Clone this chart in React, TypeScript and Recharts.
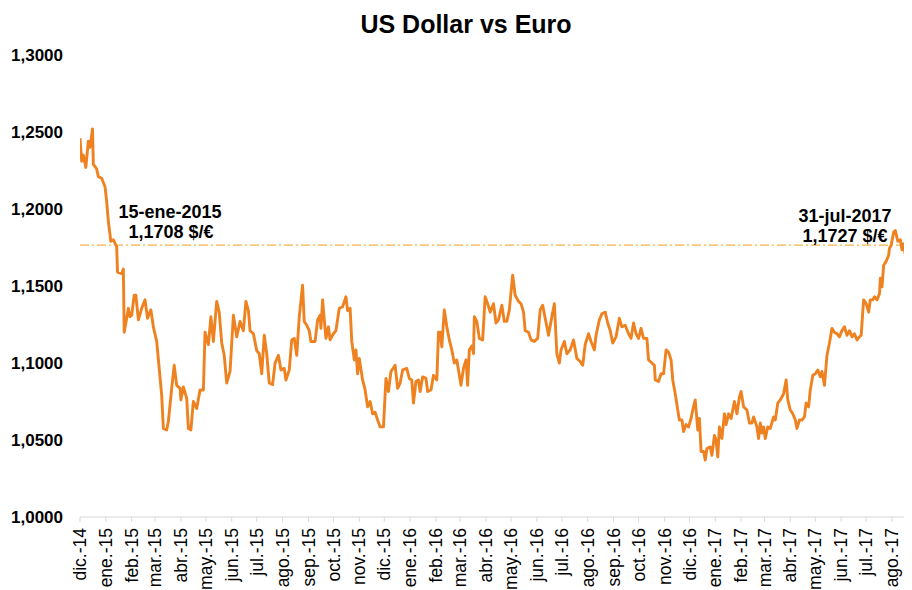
import { LineChart, Line, XAxis, YAxis, ReferenceLine } from 'recharts';

// x = days since 1-dic-2014, y = $/€
const days = [
  0, 2, 4, 7, 10, 12, 15, 16, 20, 22, 26, 30, 32, 34, 37, 40, 44, 45, 50, 52, 53, 56, 58, 60, 62, 65, 67, 70, 74, 78,
  81, 85, 88, 92, 95, 98, 100, 104, 106, 110, 113, 116, 120, 121, 124, 128, 130, 133, 136, 140, 144, 148, 150, 154,
  157, 160, 164, 167, 170, 173, 176, 180, 184, 188, 192,
  196, 199, 202, 204, 208, 212, 215, 218, 221, 224, 227, 231, 234, 238, 241, 245, 247, 251, 254, 257, 260, 263, 267,
  269, 272, 275, 277, 282, 285, 288, 289, 291, 295, 298, 300, 304, 307, 311, 315, 319, 321, 324, 326, 329, 331, 333,
  335, 339, 342, 345, 348, 351, 354, 357, 360, 364, 367, 370, 373, 378, 381, 384, 387, 392,
  395, 398, 400, 403, 406, 408, 411, 415, 417, 421, 424, 428, 430, 432, 434, 437, 440, 443, 446, 449, 452, 454, 457,
  460, 463, 465, 467, 470, 472, 473, 476, 479, 483, 486, 489, 492, 496, 499, 502, 506, 509, 512, 515, 519, 522, 526,
  529, 532, 534, 538, 541, 545, 549, 552, 555, 558, 562, 566, 569, 572, 575, 577, 581, 584, 588,
  592, 596, 600, 603, 606, 610, 613, 617, 619, 623, 626, 630, 633, 636, 639, 643, 647, 650, 654, 658, 661, 664, 667,
  670, 673, 676, 680, 682, 686, 689, 690, 694, 697, 700, 703, 706, 709, 711, 714, 717, 719, 722, 724, 727, 730, 733,
  735, 738, 741, 743, 745, 748, 750, 752, 756, 758, 761, 763, 765, 767, 770, 773, 775, 778, 781, 785, 788, 791,
  793, 796, 800, 803, 806, 808, 812, 814, 816, 818, 820, 822, 825, 828, 832, 834, 837, 840, 844, 847, 849, 852, 855,
  858, 860, 863, 866, 869, 871, 874, 876, 879, 882, 885, 888, 890, 893, 896, 899, 902, 905, 908, 911, 914, 917, 920,
  923, 926, 929, 932, 935, 937, 940, 943, 946, 948, 951, 953, 956, 959, 960, 962, 964, 967, 970, 971, 973, 976, 978,
  981, 984, 986, 988, 990, 992, 995, 997,
];

const rates = [
  1.246, 1.231, 1.235, 1.227, 1.244, 1.24, 1.252, 1.229, 1.226, 1.221, 1.22, 1.2145, 1.205, 1.192, 1.179, 1.18, 1.1755,
  1.159, 1.158, 1.161, 1.12, 1.129, 1.1355, 1.13, 1.131, 1.144, 1.144, 1.128, 1.1355, 1.141, 1.129, 1.1345, 1.1235,
  1.114, 1.0965, 1.079, 1.0575, 1.0565, 1.062, 1.0835, 1.0985, 1.0855, 1.0835, 1.076, 1.0845, 1.077, 1.0575, 1.0565,
  1.075, 1.0705, 1.0825, 1.0825, 1.12, 1.112, 1.13, 1.114, 1.14, 1.133, 1.113, 1.105, 1.087, 1.0945, 1.131, 1.117, 1.127,
  1.121, 1.14, 1.134, 1.121, 1.119, 1.108, 1.106, 1.093, 1.118, 1.106, 1.087, 1.086, 1.1, 1.105, 1.0955, 1.0965, 1.089,
  1.0955, 1.115, 1.116, 1.105, 1.13, 1.1505, 1.127, 1.1245, 1.121, 1.114, 1.114, 1.128, 1.131, 1.1225, 1.141, 1.116,
  1.1235, 1.115, 1.119, 1.121, 1.1355, 1.1365, 1.143, 1.134, 1.1355, 1.114, 1.102, 1.1085, 1.093, 1.103, 1.089, 1.0825,
  1.0715, 1.075, 1.067, 1.068, 1.063, 1.0585, 1.0585, 1.09, 1.0815, 1.0945, 1.0985, 1.0835, 1.087, 1.0955, 1.0965,
  1.09, 1.089, 1.074, 1.088, 1.089, 1.0815, 1.091, 1.09, 1.0815, 1.0825, 1.092, 1.089, 1.12, 1.12, 1.1105, 1.1345,
  1.1235, 1.115, 1.1085, 1.1, 1.102, 1.0955, 1.0855, 1.0965, 1.102, 1.0855, 1.1085, 1.111, 1.106, 1.13, 1.127, 1.116,
  1.115, 1.143, 1.1385, 1.133, 1.1385, 1.126, 1.128, 1.1375, 1.127, 1.127, 1.1345, 1.157, 1.144, 1.14, 1.1385, 1.133,
  1.121, 1.12, 1.115, 1.114, 1.116, 1.1345, 1.1375, 1.129, 1.118, 1.13, 1.1385, 1.106, 1.1, 1.1085, 1.114, 1.106, 1.1085,
  1.115, 1.103, 1.101, 1.0985, 1.112, 1.119, 1.114, 1.1085, 1.118, 1.128, 1.132, 1.133, 1.126, 1.121, 1.113, 1.117,
  1.129, 1.1235, 1.1245, 1.119, 1.116, 1.126, 1.119, 1.116, 1.1225, 1.116, 1.116, 1.102, 1.1, 1.0985, 1.089, 1.088,
  1.093, 1.093, 1.1085, 1.107, 1.102, 1.089, 1.08, 1.0695, 1.063, 1.063, 1.0555, 1.06, 1.0585, 1.064, 1.0695, 1.076,
  1.0565, 1.064, 1.0425, 1.0425, 1.037, 1.0445, 1.0455, 1.04, 1.053, 1.05, 1.039, 1.0585, 1.051, 1.067, 1.06, 1.067,
  1.064, 1.075, 1.067, 1.078,
  1.0815, 1.0715, 1.0695, 1.061, 1.061, 1.065, 1.0585, 1.051, 1.061, 1.0545, 1.0585, 1.051, 1.0585, 1.0575, 1.065,
  1.063, 1.074, 1.076, 1.08, 1.089, 1.076, 1.0695, 1.067, 1.063, 1.0575, 1.063, 1.063, 1.065, 1.074, 1.0715, 1.0825,
  1.092, 1.093, 1.0955, 1.091, 1.0945, 1.0855, 1.105, 1.113, 1.1225, 1.12, 1.119, 1.117, 1.121, 1.1235, 1.118, 1.121,
  1.117, 1.119, 1.115, 1.117, 1.118, 1.141, 1.1385, 1.133, 1.141, 1.141, 1.143, 1.141, 1.145, 1.155, 1.1495, 1.1635,
  1.166, 1.17, 1.1745, 1.1765, 1.185, 1.186, 1.179, 1.18, 1.1735, 1.1775, 1.17, 1.1755, 1.1765, 1.18,
];

const monthLabels = [
  'dic.-14', 'ene.-15', 'feb.-15', 'mar.-15', 'abr.-15', 'may.-15', 'jun.-15', 'jul.-15', 'ago.-15', 'sep.-15',
  'oct.-15', 'nov.-15', 'dic.-15', 'ene.-16', 'feb.-16', 'mar.-16', 'abr.-16', 'may.-16', 'jun.-16', 'jul.-16',
  'ago.-16', 'sep.-16', 'oct.-16', 'nov.-16', 'dic.-16', 'ene.-17', 'feb.-17', 'mar.-17', 'abr.-17', 'may.-17',
  'jun.-17', 'jul.-17', 'ago.-17',
];

const yTicks = [1.0, 1.05, 1.1, 1.15, 1.2, 1.25, 1.3];
const refLevel = 1.1766;

const DAY = 86400000;
const start = Date.UTC(2014, 11, 1);
const monthDays = monthLabels.map((_, i) => Math.round((Date.UTC(2014, 11 + i, 1) - start) / DAY));

const data = days.map((d, i) => ({ day: d, rate: rates[i] }));

const FONT = '"Liberation Sans", Arial, sans-serif';

function MonthTick({ x, y, payload }: any) {
  const i = monthDays.indexOf(payload.value);
  return (
    <text
      transform={`translate(${x},${y}) rotate(-90)`}
      textAnchor="end"
      dy="0.35em"
      fontSize={17.5}
      fontFamily={FONT}
      fill="#000"
    >
      {monthLabels[i]}
    </text>
  );
}

export default function App() {
  const W = 904;
  const H = 582;
  return (
    <div style={{ position: 'relative', width: W, height: H, fontFamily: FONT }}>
      <LineChart width={W} height={H} data={data} margin={{ top: 47, right: 0, bottom: 43, left: 0 }}>
        <XAxis
          dataKey="day"
          type="number"
          domain={[0, 998]}
          ticks={monthDays}
          interval={0}
          height={30}
          stroke="#D9D9D9"
          tickSize={5}
          tickMargin={6}
          tick={<MonthTick />}
          allowDataOverflow
        />
        <YAxis
          domain={[1, 1.3]}
          ticks={yTicks}
          width={72}
          axisLine={false}
          tickLine={false}
          tickSize={6}
          tickMargin={11}
          tickFormatter={(v: number) => v.toFixed(4).replace('.', ',')}
          tick={{ fontSize: 17, fontWeight: 'bold', fill: '#000', fontFamily: FONT }}
        />
        <ReferenceLine y={refLevel} stroke="#F6B24A" strokeWidth={1.2} strokeDasharray="9 3 2 3" />
        <Line
          type="linear"
          dataKey="rate"
          stroke="#EF8220"
          strokeWidth={2.9}
          dot={false}
          strokeLinejoin="round"
          isAnimationActive={false}
        />
      </LineChart>
      <svg width={W} height={H} style={{ position: 'absolute', left: 0, top: 0, pointerEvents: 'none' }}>
        <text x={458} y={25} textAnchor="middle" fontSize={25} fontWeight="bold" fontFamily={FONT} fill="#000">
          US Dollar vs Euro
        </text>
        <g fontSize={18} fontWeight="bold" fontFamily={FONT} fill="#000" textAnchor="middle">
          <text x={162} y={210}>15-ene-2015</text>
          <text x={163} y={230}>1,1708 $/€</text>
          <text x={837} y={214}>31-jul-2017</text>
          <text x={837} y={234}>1,1727 $/€</text>
        </g>
      </svg>
    </div>
  );
}
